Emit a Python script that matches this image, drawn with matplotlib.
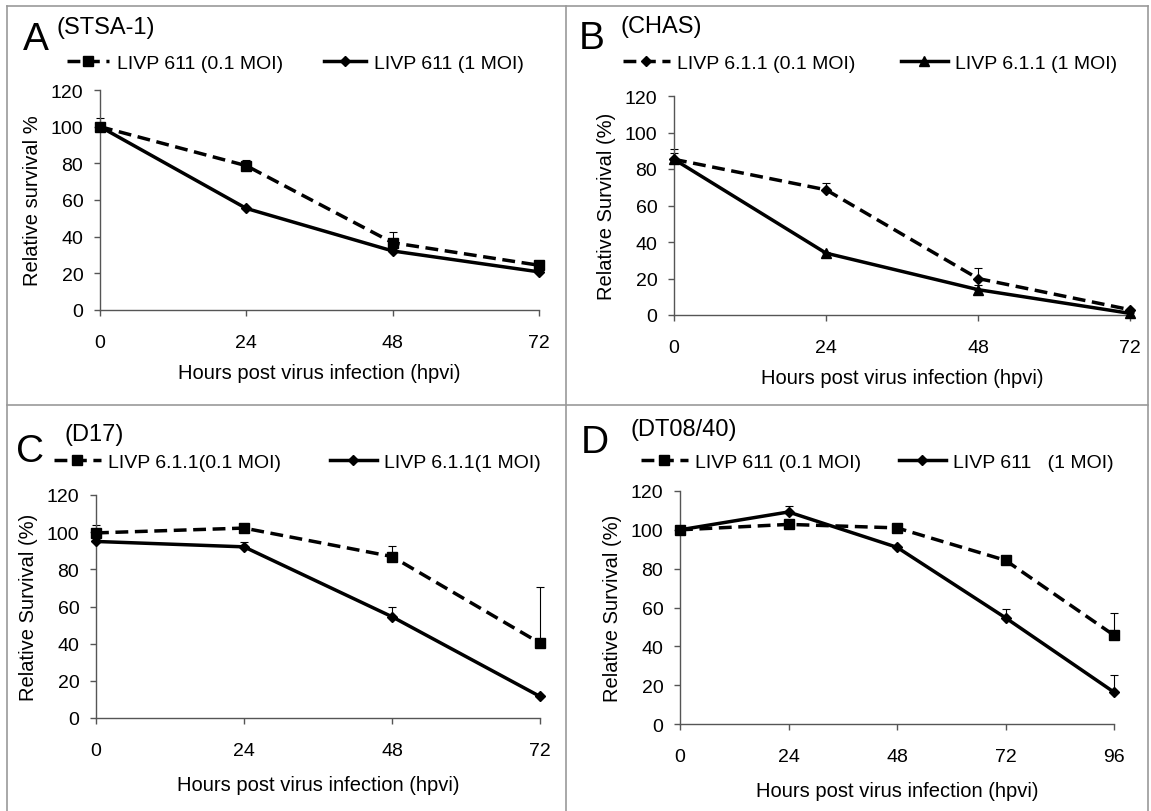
import matplotlib
matplotlib.use("Agg")
import matplotlib.pyplot as plt
from matplotlib.lines import Line2D
import numpy as np

plt.rcParams['font.family'] = ['Liberation Sans', 'DejaVu Sans']

# ---------------- data ----------------
hours_abc = [0, 24, 48, 72]
hours_d = [0, 24, 48, 72, 96]

a_low = [100, 78.7, 36.7, 24.4]
a_low_err = [4.6, 3.3, 5.8, 1.5]
a_high = [100, 55.4, 32.2, 20.8]
a_high_err = [0, 0, 0, 0]

b_low = [85.3, 68.6, 20.0, 2.9]
b_low_err = [5.5, 3.6, 5.5, 0.5]
b_high = [85.3, 33.9, 13.9, 0.9]
b_high_err = [3.3, 0.5, 2.5, 0.5]

c_low = [99.6, 102.2, 86.9, 40.3]
c_low_err = [4.0, 0.5, 5.9, 30.1]
c_high = [95.0, 92.1, 54.5, 11.6]
c_high_err = [0, 2.5, 5.0, 0]

d_low = [100, 102.8, 101, 84.3, 45.7]
d_low_err = [0, 0, 0, 0, 11.7]
d_high = [100, 109.2, 91, 54.7, 16.4]
d_high_err = [0, 3.0, 0, 4.3, 8.6]

yticks = [0, 20, 40, 60, 80, 100, 120]
xlabel = "Hours post virus infection (hpvi)"

W, H = 1151, 812
fig = plt.figure(figsize=(W / 100, H / 100), dpi=100)

FS = 14


def fx(x):
    return x / W


def fy(y):
    return 1 - y / H


def make_ax(x0, x1, y120, y0):
    return fig.add_axes([fx(x0), fy(y0), fx(x1) - fx(x0), fy(y120) - fy(y0)])


AX_COL = '#555555'
dash = (0, (3.7, 1.9))


def style(ax, xt, ylab, xpad):
    ax.set_xlim(0, xt[-1])
    ax.set_ylim(0, 120)
    ax.set_xticks(xt)
    ax.set_yticks(yticks)
    for s in ['top', 'right']:
        ax.spines[s].set_visible(False)
    for s in ['left', 'bottom']:
        ax.spines[s].set_color(AX_COL)
        ax.spines[s].set_linewidth(1.0)
    ax.tick_params(axis='both', direction='out', length=4, width=1.0,
                   color=AX_COL, labelsize=FS, labelcolor='black')
    ax.tick_params(axis='x', pad=13)
    ax.tick_params(axis='y', pad=8)
    ax.set_xlabel(xlabel, fontsize=14.5, labelpad=xpad)
    ax.set_ylabel(ylab, fontsize=14.5, labelpad=6)
    for lab in ax.get_xticklabels() + ax.get_yticklabels():
        lab.set_clip_on(False)


def series(ax, x, y, err, ls, marker, ms, label):
    ax.errorbar(x, y, yerr=[np.zeros(len(err)), err], fmt='none',
                ecolor='black', elinewidth=0.8, capsize=3, capthick=0.8,
                zorder=2, clip_on=False)
    ln, = ax.plot(x, y, linestyle=ls, color='black', linewidth=2.5,
                  marker=marker, markersize=ms, markerfacecolor='black',
                  markeredgecolor='black', label=label, zorder=3,
                  clip_on=False)
    return ln


def panel(letter, title, lx, lbase, tx, tcy, handles, labels, hx, legy, hl):
    fig.text(fx(lx), fy(lbase), letter, fontsize=28, ha='left', va='baseline')
    fig.text(fx(tx), fy(tcy), title, fontsize=17, ha='left', va='center')
    for h, lab, x in zip(handles, labels, hx):
        fig.legend([h], [lab], loc='center left',
                   bbox_to_anchor=(fx(x), fy(legy)), frameon=False,
                   fontsize=FS, handlelength=hl, handletextpad=0.4,
                   borderpad=0, borderaxespad=0)


# Panel A
axA = make_ax(100, 539, 91, 311)
l1 = series(axA, hours_abc, a_low, a_low_err, dash, 's', 7, "LIVP 611 (0.1 MOI)")
l2 = series(axA, hours_abc, a_high, a_high_err, '-', 'D', 5, "LIVP 611 (1 MOI)")
style(axA, hours_abc, "Relative survival %", 9)
panel("A", "(STSA-1)", 23, 50, 57, 28, [l1, l2],
      ["LIVP 611 (0.1 MOI)", "LIVP 611 (1 MOI)"], [67, 324], 64, 2.15)

# Panel B
axB = make_ax(674, 1130, 97, 316)
l1 = series(axB, hours_abc, b_low, b_low_err, dash, 'D', 5, "LIVP 6.1.1 (0.1 MOI)")
l2 = series(axB, hours_abc, b_high, b_high_err, '-', '^', 7, "LIVP 6.1.1 (1 MOI)")
style(axB, hours_abc, "Relative Survival (%)", 9)
panel("B", "(CHAS)", 579, 49, 620, 27, [l1, l2],
      ["LIVP 6.1.1 (0.1 MOI)", "LIVP 6.1.1 (1 MOI)"], [623, 901], 64, 2.4)

# Panel C
axC = make_ax(96, 540, 496, 719)
l1 = series(axC, hours_abc, c_low, c_low_err, dash, 's', 7, "LIVP 6.1.1(0.1 MOI)")
l2 = series(axC, hours_abc, c_high, c_high_err, '-', 'D', 5, "LIVP 6.1.1(1 MOI)")
style(axC, hours_abc, "Relative Survival (%)", 12)
panel("C", "(D17)", 16, 462, 64, 435, [l1, l2],
      ["LIVP 6.1.1(0.1 MOI)", "LIVP 6.1.1(1 MOI)"], [54, 330], 463, 2.4)

# Panel D
axD = make_ax(680, 1114, 492, 725)
l1 = series(axD, hours_d, d_low, d_low_err, dash, 's', 7, "LIVP 611 (0.1 MOI)")
l2 = series(axD, hours_d, d_high, d_high_err, '-', 'D', 5, "LIVP 611   (1 MOI)")
style(axD, hours_d, "Relative Survival (%)", 12)
panel("D", "(DT08/40)", 581, 453, 631, 430, [l1, l2],
      ["LIVP 611 (0.1 MOI)", "LIVP 611   (1 MOI)"], [641, 899], 463, 2.4)

# panel borders
BC = '#999999'
for (x0, y0, x1, y1) in [(7, 7, 1148, 7), (7, 7, 7, 812), (1148, 7, 1148, 812),
                         (566, 7, 566, 812), (7, 406, 1148, 406)]:
    fig.add_artist(Line2D([fx(x0), fx(x1)], [fy(y0), fy(y1)],
                          transform=fig.transFigure, color=BC, linewidth=1.2))

fig.savefig("out.png", dpi=100)
